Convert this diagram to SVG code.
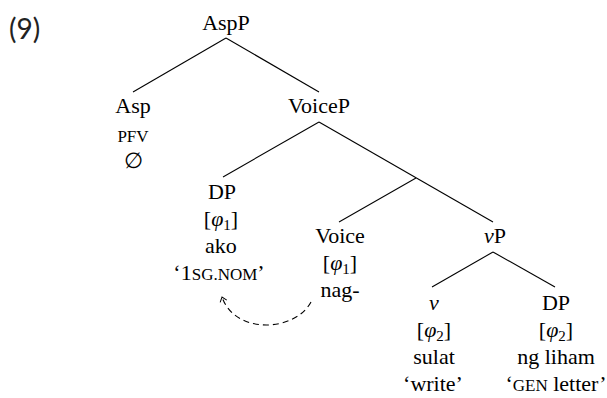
<svg xmlns="http://www.w3.org/2000/svg" width="607" height="398" viewBox="0 0 607 398">
<style>
  .t { font-family: 'Liberation Serif', 'DejaVu Serif', serif; font-size: 22px; fill: #000; text-anchor: middle; }
  .num { font-family: Lato, 'Open Sans', sans-serif; font-size: 28px; fill: #222; }
  .sc { font-size: 17px; }
  .it { font-style: italic; }
  .sub { font-size: 15px; }
  .edge { stroke: #000; stroke-width: 1.1; fill: none; }
  .move { stroke: #000; stroke-width: 1.1; fill: none; stroke-dasharray: 6 4; }
</style>
<defs>
  <marker id="tip" viewBox="-6 -5 8 10" markerWidth="8" markerHeight="10" refX="0" refY="0" orient="auto" markerUnits="userSpaceOnUse">
    <path d="M -4.5 -3.5 L 0 0 L -4.5 3.5" fill="none" stroke="#000" stroke-width="1"/>
  </marker>
</defs>
<rect width="607" height="398" fill="#fff"/>
<text class="num" x="9" y="39">(9)</text>

<g id="connectors">
  <line class="edge" x1="226" y1="38" x2="133" y2="92"/>
  <line class="edge" x1="226" y1="38" x2="319" y2="92"/>
  <line class="edge" x1="319" y1="122" x2="223" y2="177"/>
  <line class="edge" x1="319" y1="122" x2="493" y2="222"/>
  <line class="edge" x1="416" y1="178" x2="339" y2="222"/>
  <line class="edge" x1="493" y1="252" x2="432" y2="287"/>
  <line class="edge" x1="493" y1="252" x2="555" y2="287"/>
  <path class="move" d="M 311 302 C 295 332 235 335 222 297" marker-end="url(#tip)"/>
</g>

<g id="AspP"><text class="t" x="226" y="30">AspP</text></g>

<g id="Asp">
  <text class="t" x="133" y="113">Asp</text>
  <text class="t sc" x="133" y="142">PFV</text>
  <text class="t" x="133" y="168">∅</text>
</g>

<g id="VoiceP"><text class="t" x="319" y="113">VoiceP</text></g>

<g id="DP1">
  <text class="t" x="222" y="199">DP</text>
  <text class="t" x="221" y="226">[<tspan class="it">φ</tspan><tspan class="sub" dy="4">1</tspan><tspan dy="-4">]</tspan></text>
  <text class="t" x="221" y="253">ako</text>
  <text class="t" x="219" y="280">‘1<tspan class="sc">SG.NOM</tspan>’</text>
</g>

<g id="Voice">
  <text class="t" x="340" y="243">Voice</text>
  <text class="t" x="340" y="270">[<tspan class="it">φ</tspan><tspan class="sub" dy="4">1</tspan><tspan dy="-4">]</tspan></text>
  <text class="t" x="340" y="297">nag-</text>
</g>

<g id="vP"><text class="t" x="495" y="243"><tspan class="it">v</tspan>P</text></g>

<g id="v">
  <text class="t it" x="434" y="310">v</text>
  <text class="t" x="434" y="337">[<tspan class="it">φ</tspan><tspan class="sub" dy="4">2</tspan><tspan dy="-4">]</tspan></text>
  <text class="t" x="434" y="364">sulat</text>
  <text class="t" x="433" y="391">‘write’</text>
</g>

<g id="DP2">
  <text class="t" x="556" y="310">DP</text>
  <text class="t" x="556" y="337">[<tspan class="it">φ</tspan><tspan class="sub" dy="4">2</tspan><tspan dy="-4">]</tspan></text>
  <text class="t" x="556" y="364">ng liham</text>
  <text class="t" x="556" y="391">‘<tspan class="sc">GEN</tspan> letter’</text>
</g>
</svg>
